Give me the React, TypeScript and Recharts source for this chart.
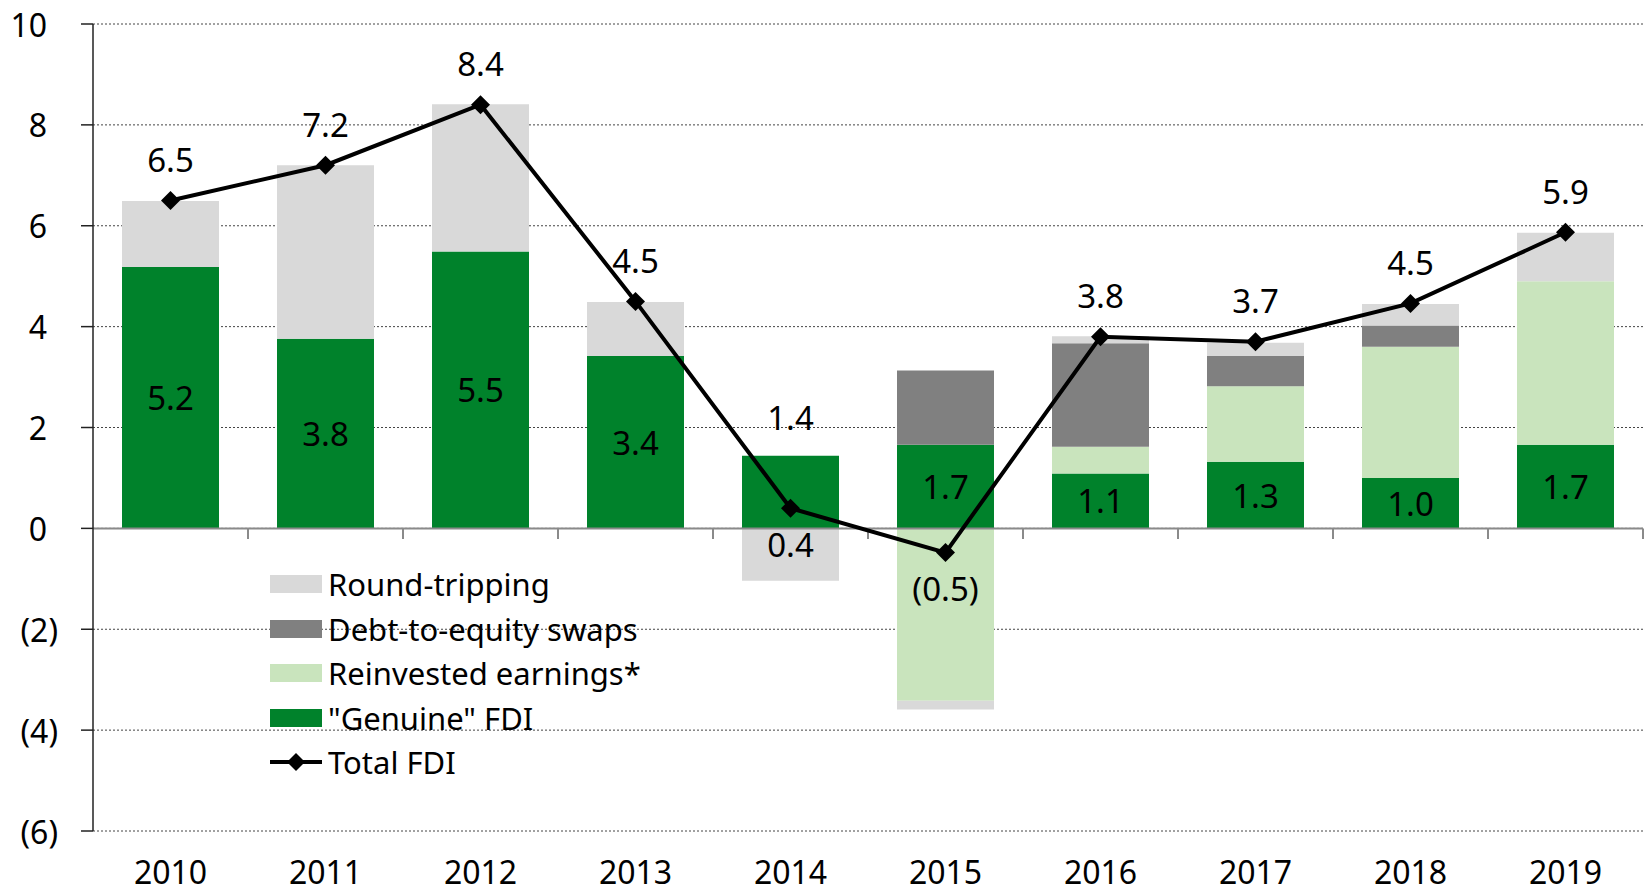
import React from 'react';
import {
  ComposedChart,
  Bar,
  Line,
  XAxis,
  YAxis,
  CartesianGrid,
  ReferenceLine,
  LabelList,
  Legend,
} from 'recharts';

// ---- data ----
const years = ['2010', '2011', '2012', '2013', '2014', '2015', '2016', '2017', '2018', '2019'];
const genuineFdi = [5.18, 3.76, 5.49, 3.42, 1.44, 1.66, 1.09, 1.32, 1.0, 1.66];
const reinvestedEarnings = [0, 0, 0, 0, 0, -3.42, 0.53, 1.5, 2.6, 3.24];
const debtToEquitySwaps = [0, 0, 0, 0, 0, 1.47, 2.05, 0.6, 0.42, 0];
const roundTripping = [1.31, 3.44, 2.92, 1.07, -1.04, -0.17, 0.14, 0.26, 0.43, 0.96];
const totalFdi = [6.5, 7.2, 8.4, 4.5, 0.4, -0.48, 3.8, 3.7, 4.46, 5.87];
const yTicks = [-6, -4, -2, 0, 2, 4, 6, 8, 10];
const genuineLabelAbove = ['2014'];
const totalLabelBelow = ['2014', '2015'];

const data = years.map((year, i) => ({
  year,
  slot: i + 0.5,
  genuine: genuineFdi[i],
  reinvested: reinvestedEarnings[i],
  swaps: debtToEquitySwaps[i],
  roundTrip: roundTripping[i],
  total: totalFdi[i],
}));
// category boundaries (right edge of each year's slot)
const boundaries = years.map((_, i) => i + 1);

// ---- styles ----
const FONT = '"Noto Sans", "Open Sans", sans-serif';
const C_GENUINE = '#00822B';
const C_REINVEST = '#C9E4BD';
const C_SWAPS = '#808080';
const C_ROUND = '#D9D9D9';

const fmt = (v: number) => (v < 0 ? `(${Math.abs(v).toFixed(1)})` : v.toFixed(1));

const YTick = (props: any) => {
  const { x, y, payload } = props;
  const v = payload.value as number;
  const txt = v < 0 ? `(${Math.abs(v)})` : `${v}`;
  return (
    <text
      x={x}
      y={y}
      dx={v < 0 ? 0 : -11}
      textAnchor="end"
      dominantBaseline="central"
      fontSize={32}
      fontFamily={FONT}
      fill="#000"
    >
      {txt}
    </text>
  );
};

const XTick = (props: any) => {
  const { x, y, payload } = props;
  return (
    <text
      x={x}
      y={y}
      dy={32}
      textAnchor="middle"
      dominantBaseline="central"
      fontSize={32}
      fontFamily={FONT}
      fill="#000"
    >
      {payload.value}
    </text>
  );
};

const Diamond = (props: any) => {
  const { cx, cy } = props;
  if (cx == null || cy == null) return null;
  const r = 9.5;
  return (
    <polygon
      points={`${cx},${cy - r} ${cx + r},${cy} ${cx},${cy + r} ${cx - r},${cy}`}
      fill="#000"
    />
  );
};

const GenuineLabel = (props: any) => {
  const { x, y, width, height, value, index } = props;
  const above = genuineLabelAbove.includes(years[index]);
  const top = Math.min(y, y + height);
  const cy = above ? top - 38 : y + height / 2;
  return (
    <text
      x={x + width / 2}
      y={cy}
      textAnchor="middle"
      dominantBaseline="central"
      fontSize={33}
      fontFamily={FONT}
      fill="#000"
    >
      {fmt(value)}
    </text>
  );
};

const TotalLabel = (props: any) => {
  const { x, y, value, index } = props;
  const below = totalLabelBelow.includes(years[index]);
  return (
    <text
      x={x}
      y={below ? y + 36 : y - 41}
      textAnchor="middle"
      dominantBaseline="central"
      fontSize={33}
      fontFamily={FONT}
      fill="#000"
    >
      {fmt(value)}
    </text>
  );
};

const legendItems = [
  { label: 'Round-tripping', color: C_ROUND, type: 'box' },
  { label: 'Debt-to-equity swaps', color: C_SWAPS, type: 'box' },
  { label: 'Reinvested earnings*', color: C_REINVEST, type: 'box' },
  { label: '"Genuine" FDI', color: C_GENUINE, type: 'box' },
  { label: 'Total FDI', color: '#000', type: 'line' },
];

const LegendBox = () => (
  <div style={{ fontFamily: FONT, fontSize: 31, color: '#000' }}>
    {legendItems.map((it) => (
      <div
        key={it.label}
        style={{ display: 'flex', alignItems: 'center', height: 44.5, whiteSpace: 'nowrap' }}
      >
        {it.type === 'box' ? (
          <div style={{ width: 52, height: 18, background: it.color, marginRight: 6 }} />
        ) : (
          <svg width={52} height={20} style={{ marginRight: 6 }}>
            <line x1={0} y1={10} x2={52} y2={10} stroke="#000" strokeWidth={4} />
            <polygon points="26,1 35,10 26,19 17,10" fill="#000" />
          </svg>
        )}
        <span style={{ lineHeight: '44px' }}>{it.label}</span>
      </div>
    ))}
  </div>
);

export default function App() {
  return (
    <div style={{ position: 'absolute', left: 0, top: 0, background: '#fff' }}>
      <ComposedChart
        width={1651}
        height={892}
        data={data}
        stackOffset="sign"
        margin={{ top: 24, right: 8, bottom: 0, left: 0 }}
        style={{ fontFamily: FONT }}
      >
        <CartesianGrid
          vertical={false}
          stroke="#444"
          strokeDasharray="2 2"
          strokeWidth={1}
        />
        <XAxis
          dataKey="year"
          xAxisId={0}
          axisLine={false}
          tickLine={false}
          height={61}
          interval={0}
          tick={<XTick />}
        />
        <XAxis
          xAxisId="num"
          dataKey="slot"
          type="number"
          scale="linear"
          domain={[0, years.length]}
          allowDataOverflow
          padding={{ left: 0, right: 0 }}
          hide
        />
        <YAxis
          domain={[-6, 10]}
          ticks={yTicks}
          interval={0}
          width={93}
          axisLine={{ stroke: '#222', strokeWidth: 1.5 }}
          tickLine={{ stroke: '#222', strokeWidth: 1.5 }}
          tickSize={12}
          tickMargin={23}
          tick={<YTick />}
        />
        <ReferenceLine y={0} xAxisId={0} stroke="#8a8a8a" strokeWidth={2} />
        {boundaries.map((b) => (
          <ReferenceLine
            key={b}
            xAxisId="num"
            stroke="#8a8a8a"
            strokeWidth={2}
            ifOverflow="visible"
            segment={[
              { x: b, y: 0 },
              { x: b, y: -0.21 },
            ]}
          />
        ))}
        <Bar dataKey="genuine" stackId="s" fill={C_GENUINE} barSize={97} isAnimationActive={false}>
          <LabelList dataKey="genuine" content={<GenuineLabel />} />
        </Bar>
        <Bar dataKey="reinvested" stackId="s" fill={C_REINVEST} barSize={97} isAnimationActive={false} />
        <Bar dataKey="swaps" stackId="s" fill={C_SWAPS} barSize={97} isAnimationActive={false} />
        <Bar dataKey="roundTrip" stackId="s" fill={C_ROUND} barSize={97} isAnimationActive={false} />
        <Line
          dataKey="total"
          stroke="#000"
          strokeWidth={4}
          dot={<Diamond />}
          activeDot={false}
          isAnimationActive={false}
        >
          <LabelList dataKey="total" content={<TotalLabel />} />
        </Line>
        <Legend
          layout="vertical"
          align="center"
          verticalAlign="middle"
          content={() => <LegendBox />}
          wrapperStyle={{ left: 270, top: 562, width: 400, height: 225 }}
        />
      </ComposedChart>
    </div>
  );
}
